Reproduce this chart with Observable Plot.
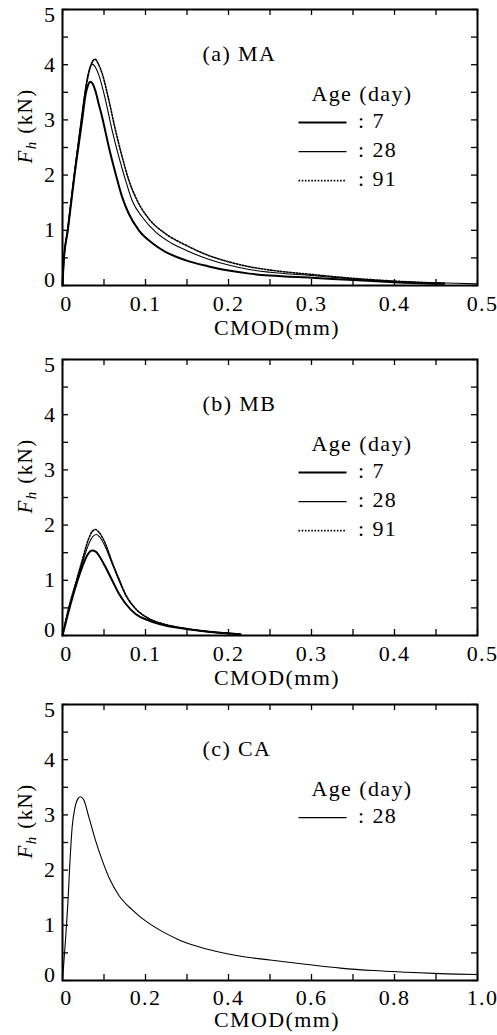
<!DOCTYPE html>
<html><head><meta charset="utf-8">
<script src="https://cdn.jsdelivr.net/npm/d3@7"></script>
<script src="https://cdn.jsdelivr.net/npm/@observablehq/plot@0.6"></script>
<style>
html,body{margin:0;padding:0;background:#fff;}
#chart{width:497px;}
#chart svg{display:block;}
</style></head><body><div id="chart"></div>
<script>
// ---------- data: [CMOD (mm), Fh (kN)] ----------
const ma7 = [[0,0],[0.0015,0.45],[0.0064,1.0],[0.0145,2.0],[0.0237,3.0],[0.0277,3.45],[0.031,3.64],[0.0337,3.69],[0.0365,3.65],[0.0398,3.52],[0.0438,3.28],[0.0478,3.05],[0.0558,2.51],[0.0639,2.03],[0.0719,1.60],[0.0799,1.30],[0.092,1.0],[0.108,0.77],[0.124,0.61],[0.148,0.46],[0.175,0.35],[0.2,0.27],[0.225,0.215],[0.25,0.18],[0.3,0.14],[0.35,0.10],[0.4,0.06],[0.46,0.03]];
const ma28 = [[0,0],[0.0015,0.45],[0.006,1.0],[0.014,2.0],[0.0225,3.0],[0.028,3.6],[0.032,3.9],[0.0358,4.01],[0.039,3.97],[0.0438,3.81],[0.0518,3.36],[0.0598,2.81],[0.0679,2.33],[0.0759,1.91],[0.0839,1.54],[0.096,1.24],[0.112,0.97],[0.132,0.76],[0.15,0.63],[0.175,0.48],[0.2,0.37],[0.225,0.29],[0.25,0.24],[0.3,0.18],[0.35,0.12],[0.4,0.07],[0.45,0.05],[0.5,0.03]];
const ma91 = [[0,0],[0.0015,0.42],[0.006,0.98],[0.014,1.98],[0.023,3.0],[0.029,3.65],[0.034,3.98],[0.039,4.10],[0.043,4.02],[0.0478,3.84],[0.0558,3.36],[0.0639,2.81],[0.0719,2.33],[0.0799,1.91],[0.090,1.54],[0.104,1.21],[0.124,0.94],[0.15,0.72],[0.175,0.55],[0.2,0.43],[0.225,0.34],[0.25,0.28],[0.3,0.20],[0.35,0.13],[0.4,0.08],[0.46,0.04]];
const mb7 = [[0,0],[0.0076,0.45],[0.0157,0.88],[0.0237,1.24],[0.0297,1.45],[0.0357,1.54],[0.040,1.52],[0.0438,1.45],[0.0518,1.24],[0.0598,1.0],[0.0679,0.76],[0.0759,0.58],[0.088,0.39],[0.104,0.27],[0.124,0.18],[0.148,0.12],[0.175,0.07],[0.198,0.04],[0.2145,0.02]];
const mb28 = [[0,0],[0.0076,0.48],[0.0157,0.91],[0.0237,1.30],[0.0317,1.66],[0.037,1.80],[0.041,1.83],[0.045,1.78],[0.0518,1.60],[0.0598,1.30],[0.0679,1.0],[0.0759,0.73],[0.088,0.48],[0.104,0.30],[0.124,0.19],[0.148,0.12],[0.175,0.07],[0.198,0.04],[0.2145,0.02]];
const mb91 = [[0,0],[0.0076,0.51],[0.0157,0.94],[0.0237,1.36],[0.0317,1.76],[0.036,1.89],[0.0398,1.92],[0.044,1.87],[0.0518,1.66],[0.0598,1.33],[0.0679,1.03],[0.0759,0.75],[0.088,0.49],[0.104,0.31],[0.124,0.20],[0.148,0.13],[0.175,0.075],[0.198,0.045],[0.2145,0.025]];
const ca28 = [[0,0],[0.0072,0.73],[0.0137,1.51],[0.0169,2.0],[0.0233,2.78],[0.0297,3.12],[0.0378,3.30],[0.0434,3.33],[0.0514,3.27],[0.0635,2.96],[0.0795,2.54],[0.0956,2.18],[0.1117,1.87],[0.136,1.54],[0.168,1.28],[0.2,1.08],[0.24,0.89],[0.28,0.74],[0.32,0.63],[0.369,0.53],[0.43,0.44],[0.5,0.37],[0.59,0.29],[0.67,0.225],[0.75,0.18],[0.83,0.15],[0.91,0.125],[1.0,0.11]];

// ---------- tick values & labels ----------
const xTicksAB = [0,0.1,0.2,0.3,0.4,0.5];
const xMinorAB = [0,0.05,0.1,0.15,0.2,0.25,0.3,0.35,0.4,0.45,0.5];
const xTicksC = [0,0.2,0.4,0.6,0.8,1.0];
const xMinorC = [0,0.1,0.2,0.3,0.4,0.5,0.6,0.7,0.8,0.9,1.0];
const yTicks = [0,1,2,3,4,5];
const yMinor = [0,0.5,1,1.5,2,2.5,3,3.5,4,4.5,5];
const titles = ["(a) MA","(b) MB","(c) CA"];
const xLabel = "CMOD(mm)";
const legendTitle = "Age (day)";

const ageStyle = {
  "7":  {strokeWidth: 2},
  "28": {strokeWidth: 1.1},
  "91": {strokeWidth: 1.6, strokeDasharray: "1.6,1.6"}
};

const panels = [
  {title: titles[0], series: [{age:"7",data:ma7},{age:"28",data:ma28},{age:"91",data:ma91}], xMax:0.5, xTicks:xTicksAB, xMinor:xMinorAB, height:340, mt:9, xLabelDy:42, xPad:10},
  {title: titles[1], series: [{age:"7",data:mb7},{age:"28",data:mb28},{age:"91",data:mb91}], xMax:0.5, xTicks:xTicksAB, xMinor:xMinorAB, height:350, mt:19, xLabelDy:42, xPad:10},
  {title: titles[2], series: [{age:"28",data:ca28}], xMax:1.0, xTicks:xTicksC, xMinor:xMinorC, height:345, mt:14, xLabelDy:39, xPad:9}
];

const fmtX = d => d === 0 ? "0" : d.toFixed(1);
const fmtY = d => String(d);
const FONT = '"Liberation Serif","Times New Roman",Times,serif';
const W = 497, ML = 62, MR = 20;
const FRAME_H = 276, FRAME_W = W - ML - MR, TICK = 6;

const chart = document.getElementById("chart");

for (const p of panels) {
  const lastX = p.xTicks[p.xTicks.length - 1];
  const tickStyle = {stroke: "black", strokeWidth: 1.3};
  const plot = Plot.plot({
    width: W,
    height: p.height,
    marginLeft: ML,
    marginRight: MR,
    marginTop: p.mt,
    marginBottom: p.height - p.mt - FRAME_H,
    x: {domain: [0, p.xMax], axis: null},
    y: {domain: [0, 5], axis: null},
    style: {fontFamily: FONT, fontSize: "22px", letterSpacing: "1.4px", background: "white", color: "black"},
    marks: [
      // inward ticks on all four sides
      Plot.ruleX(p.xMinor, {x: d => d, insetTop: FRAME_H - TICK, ...tickStyle}),
      Plot.ruleX(p.xMinor, {x: d => d, insetBottom: FRAME_H - TICK, ...tickStyle}),
      Plot.tickY(yMinor, {y: d => d, insetRight: FRAME_W - TICK, ...tickStyle}),
      Plot.tickY(yMinor, {y: d => d, insetLeft: FRAME_W - TICK, ...tickStyle}),
      // curves
      ...p.series.map(s => Plot.line(s.data, {x: d => d[0], y: d => d[1], stroke: "black", curve: "monotone-x", ...ageStyle[s.age]})),
      Plot.frame({stroke: "black", strokeWidth: 2}),
      // tick labels
      Plot.axisX({ticks: p.xTicks.slice(1, -1), anchor: "bottom", tickSize: 0, tickPadding: p.xPad, tickFormat: fmtX, label: null}),
      Plot.axisX({ticks: [p.xTicks[0]], anchor: "bottom", tickSize: 0, tickPadding: p.xPad, tickFormat: fmtX, label: null, dx: 4}),
      Plot.axisX({ticks: [lastX], anchor: "bottom", tickSize: 0, tickPadding: p.xPad, tickFormat: fmtX, label: null, dx: 5}),
      Plot.axisY({ticks: yTicks.slice(1, -1), anchor: "left", tickSize: 0, tickPadding: 6, tickFormat: fmtY, label: null}),
      Plot.axisY({ticks: [yTicks[yTicks.length - 1]], anchor: "left", tickSize: 0, tickPadding: 6, tickFormat: fmtY, label: null, dy: 5}),
      Plot.axisY({ticks: [yTicks[0]], anchor: "left", tickSize: 0, tickPadding: 6, tickFormat: fmtY, label: null, dy: -6}),
      // panel title, x label
      Plot.text([p.title], {text: d => d, frameAnchor: "top-left", dx: 140, dy: 44, textAnchor: "start", lineAnchor: "middle"}),
      Plot.text([xLabel], {text: d => d, frameAnchor: "bottom", dx: 7, dy: p.xLabelDy, lineAnchor: "middle"})
    ]
  });

  const svg = d3.select(plot);

  // y label: italic F with subscript h, rotated
  const yl = svg.append("text")
    .attr("transform", `translate(25,${p.mt + 117}) rotate(-90)`)
    .attr("text-anchor", "middle").attr("dy", "0.35em")
    .attr("font-family", FONT).attr("font-size", 21).attr("fill", "black");
  yl.append("tspan").attr("font-style", "italic").text("F");
  yl.append("tspan").attr("font-style", "italic").attr("font-size", 15).attr("dy", 4).text("h");
  yl.append("tspan").attr("dy", -4).text(" (kN)");

  // legend inside the plot area
  const g = svg.append("g").attr("font-family", FONT).attr("fill", "black");
  const top = p.mt;
  g.append("text").attr("x", 362).attr("y", top + 84).attr("dy", "0.35em").attr("text-anchor", "middle").text(legendTitle);
  p.series.forEach((s, i) => {
    const y = top + 113.6 + 29 * i;
    const st = ageStyle[s.age];
    g.append("line").attr("x1", 298.5).attr("x2", 346.5).attr("y1", y).attr("y2", y)
      .attr("stroke", "black").attr("stroke-width", st.strokeWidth)
      .attr("stroke-dasharray", st.strokeDasharray || null);
    g.append("text").attr("x", 358).attr("y", y - 2).attr("dy", "0.35em").attr("text-anchor", "start").text(": " + s.age);
  });

  chart.appendChild(plot);
}
</script>
</body></html>
